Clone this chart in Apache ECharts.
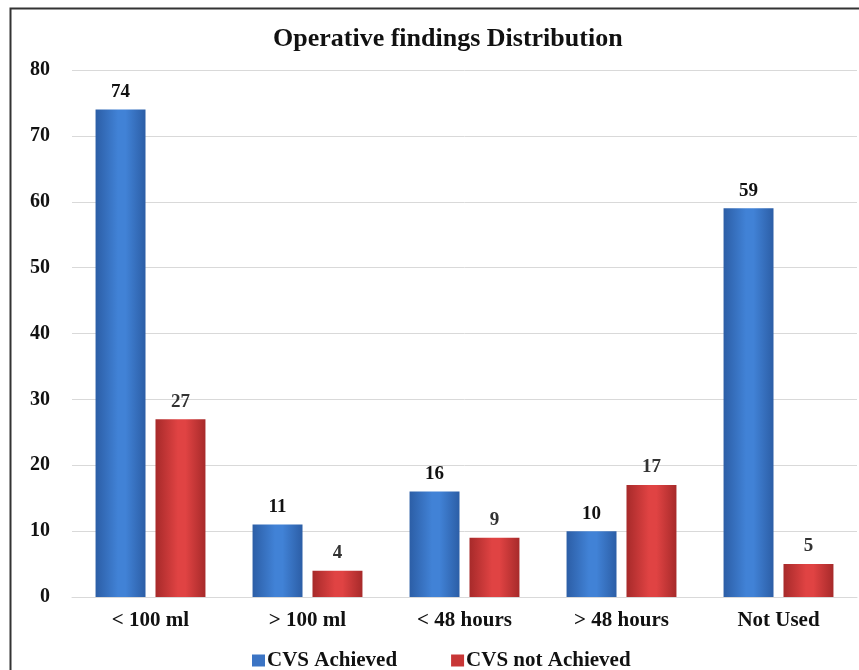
<!DOCTYPE html>
<html>
<head>
<meta charset="utf-8">
<script src="https://cdn.jsdelivr.net/npm/echarts@6/dist/echarts.min.js"></script>
<style>
  html, body { margin: 0; padding: 0; background: #ffffff; }
  #chart { width: 859px; height: 670px; }
</style>
</head>
<body>
<div id="chart"></div>
<script>
// Operative findings, grouped by CVS outcome
const categories = ['< 100 ml', '> 100 ml', '< 48 hours', '> 48 hours', 'Not Used'];
const cvsAchieved = [74, 11, 16, 10, 59];
const cvsNotAchieved = [27, 4, 9, 17, 5];
const yTicks = { min: 0, max: 80, step: 10 };

const serif = '"Liberation Serif", "DejaVu Serif", serif';

// horizontal shading so each bar reads like a rounded column
function cylinder(edge, mid) {
  return new echarts.graphic.LinearGradient(0, 0, 1, 0, [
    { offset: 0, color: edge },
    { offset: 0.45, color: mid },
    { offset: 0.6, color: mid },
    { offset: 1, color: edge }
  ]);
}

const chart = echarts.init(document.getElementById('chart'), null, { renderer: 'canvas' });

chart.setOption({
  backgroundColor: '#ffffff',
  animation: false,
  graphic: [{
    type: 'rect',
    shape: { x: 10.5, y: 8.5, width: 900, height: 700 },
    style: { fill: 'none', stroke: '#333333', lineWidth: 2 },
    silent: true,
    z: 100
  }],
  title: {
    text: 'Operative findings Distribution',
    left: 268,
    top: 21,
    textStyle: { fontFamily: serif, fontWeight: 'bold', fontSize: 26, color: '#111111' }
  },
  legend: {
    left: 247,
    top: 645,
    icon: 'rect',
    itemWidth: 13,
    itemHeight: 12,
    itemGap: 54,
    textStyle: { fontFamily: serif, fontWeight: 'bold', fontSize: 21, color: '#111111', padding: [0, 0, 0, -3] },
    data: [
      { name: 'CVS Achieved', itemStyle: { color: '#3b74c4' } },
      { name: 'CVS not Achieved', itemStyle: { color: '#c83636' } }
    ]
  },
  grid: { left: 72, right: 2, top: 70, bottom: 73, containLabel: false },
  xAxis: {
    type: 'category',
    data: categories,
    axisLine: { show: true, lineStyle: { color: '#d9d9d9', width: 1 } },
    axisTick: { show: false },
    axisLabel: {
      margin: 13,
      fontFamily: serif,
      fontWeight: 'bold',
      fontSize: 21,
      color: '#111111'
    }
  },
  yAxis: {
    type: 'value',
    min: yTicks.min,
    max: yTicks.max,
    interval: yTicks.step,
    axisLine: { show: false },
    axisTick: { show: false },
    splitLine: { lineStyle: { color: '#d9d9d9', width: 1 } },
    axisLabel: {
      margin: 22,
      fontFamily: serif,
      fontWeight: 'bold',
      fontSize: 20,
      color: '#111111'
    }
  },
  series: [
    {
      name: 'CVS Achieved',
      type: 'bar',
      data: cvsAchieved,
      barGap: '20%',
      barCategoryGap: '30%',
      itemStyle: { color: cylinder('#2c5ea6', '#4182d6') },
      label: {
        show: true,
        position: 'top',
        distance: 8,
        fontFamily: serif,
        fontWeight: 'bold',
        fontSize: 19,
        color: '#111111'
      }
    },
    {
      name: 'CVS not Achieved',
      type: 'bar',
      data: cvsNotAchieved,
      itemStyle: { color: cylinder('#a72a2a', '#e04343') },
      label: {
        show: true,
        position: 'top',
        distance: 8,
        fontFamily: serif,
        fontWeight: 'bold',
        fontSize: 19,
        color: '#333333'
      }
    }
  ]
});
</script>
</body>
</html>
